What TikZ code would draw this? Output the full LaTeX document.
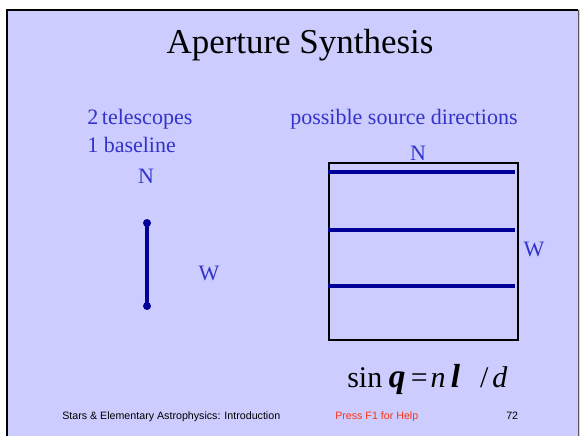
\documentclass[tikz,border=0pt]{standalone}
\usepackage{fontspec}
\setmainfont{Liberation Serif}
\newfontfamily\footfont{Liberation Sans}
\definecolor{slidebg}{HTML}{CCCCFF}
\definecolor{txtblue}{HTML}{3333CC}
\definecolor{lineblue}{HTML}{000099}
\definecolor{helpred}{HTML}{FF3311}
\newcommand{\bigsym}[1]{{\fontsize{25}{28}\selectfont\bfseries\itshape #1}}
\begin{document}
\begin{tikzpicture}[x=0.75pt,y=-0.75pt,
  bluetxt/.style={text=txtblue,font=\fontsize{16.5}{18}\selectfont,inner sep=0pt},
  foot/.style={font=\footfont\fontsize{8}{9}\selectfont,inner sep=0pt},
  dirline/.style={draw=lineblue,line width=2.4pt},
  dot/.style={circle,fill=lineblue,inner sep=0pt,minimum size=6pt}]
\useasboundingbox (0,0) rectangle (580,436);
\fill[white] (0,0) rectangle (580,436);
\fill[slidebg] (7,10) rectangle (580,436);
\draw[black,line width=1.5pt] (7,436) -- (7,10) -- (578,10);
\draw[gray!70!black,line width=0.5pt] (578,10) -- (578,436);
% title
\node[inner sep=0pt,anchor=base,font=\fontsize{26.2}{30}\selectfont] (title) at (300,53) {Aperture Synthesis};
% left text
\node[bluetxt,anchor=base west] (t1) at (87,124) {2\,telescopes};
\node[bluetxt,anchor=base west] (t2) at (87,152) {1 baseline};
\node[bluetxt,anchor=base] (n1) at (146,183) {N};
\node[bluetxt,anchor=base] (w1) at (209,280) {W};
% baseline
\node[dot] (a) at (147,223) {};
\node[dot] (b) at (147,306) {};
\draw[lineblue,line width=2.4pt] (a.center) -- (b.center);
% right
\node[bluetxt,anchor=base] (psd) at (404,124) {possible source directions};
\node[bluetxt,anchor=base] (n2) at (418,160) {N};
\node[bluetxt,anchor=base] (w2) at (534,256) {W};
\node[draw=black,line width=1.5pt,minimum width=189*0.75pt,minimum height=177*0.75pt,inner sep=0pt,anchor=north west] (box) at (328,162) {};
\coordinate (l1a) at (328,172); \coordinate (l1b) at (515,172);
\coordinate (l2a) at (328,230); \coordinate (l2b) at (515,230);
\coordinate (l3a) at (328,286); \coordinate (l3b) at (515,286);
\draw[dirline] (l1a) -- (l1b);
\draw[dirline] (l2a) -- (l2b);
\draw[dirline] (l3a) -- (l3b);
% equation
\node[inner sep=0pt,anchor=base west,font=\fontsize{22.5}{26}\selectfont] (eq) at (347,387)
  {sin\hspace{5pt}\bigsym{q}\hspace{4pt}=\hspace{2pt}\textit{n}\hspace{4pt}\bigsym{l}\hspace{15pt}/\hspace{3pt}\textit{d}};
% footer
\node[foot,anchor=base west] (f1) at (62,419) {Stars \& Elementary Astrophysics: Introduction};
\node[foot,anchor=base west,text=helpred] (f2) at (335,419) {Press F1 for Help};
\node[foot,anchor=base west] (f3) at (506,419) {72};
\end{tikzpicture}
\end{document}
